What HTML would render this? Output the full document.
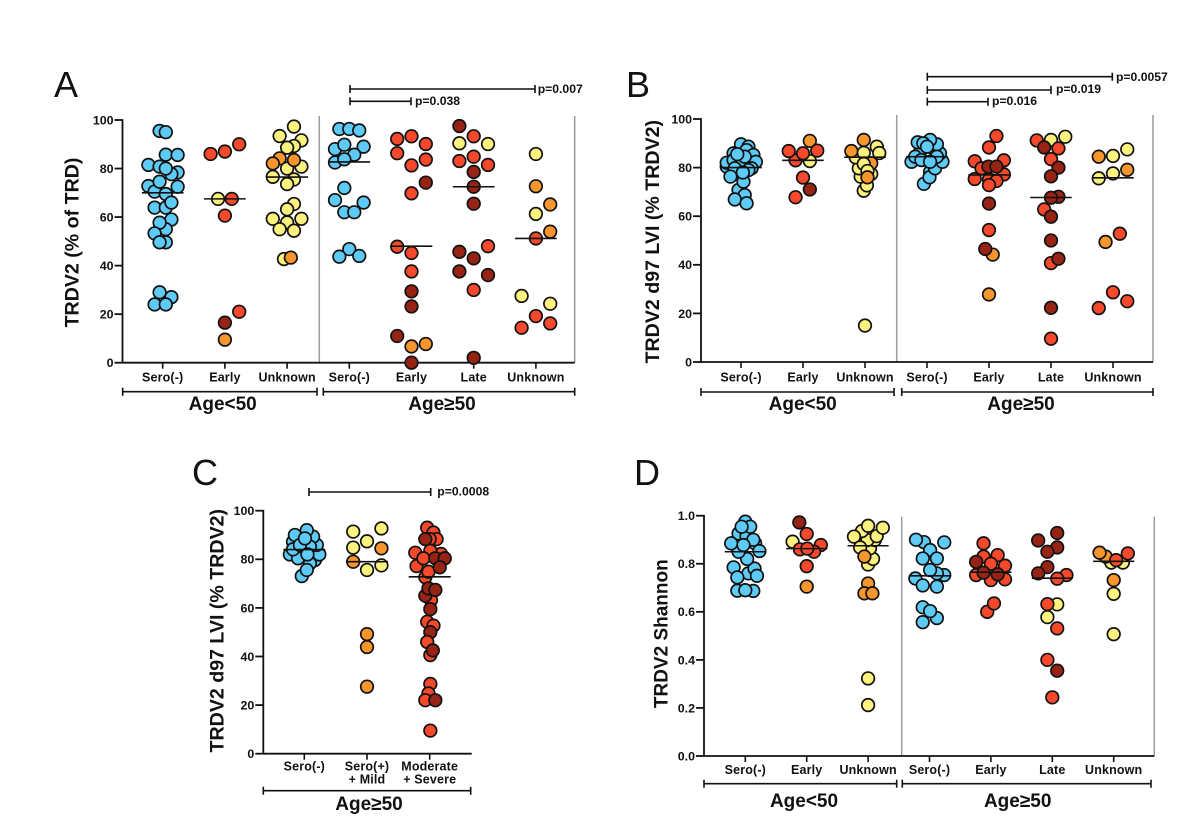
<!DOCTYPE html>
<html lang="en">
<head>
<meta charset="utf-8">
<title>TRDV2 repertoire panels</title>
<style>
html,body{margin:0;padding:0;background:#fff;width:1200px;height:832px;overflow:hidden}
svg{display:block}
text{font-family:"Liberation Sans",Arial,sans-serif;fill:#111}
.b{font-weight:700}
.letter{font-size:36px;font-weight:400}
.ttl{font-size:19.6px;font-weight:700;text-anchor:middle}
.age{font-size:19px;font-weight:700;text-anchor:middle}
.p{font-size:12.2px;font-weight:700}
.br{stroke:#111;stroke-width:1.6;fill:none}
</style>
</head>
<body>
<svg id="chart" xmlns="http://www.w3.org/2000/svg" width="1200" height="832" viewBox="0 0 1200 832">
  <rect width="1200" height="832" fill="#fff"/>

  <text class="letter" x="54" y="97">A</text>
  <text class="letter" x="626" y="97">B</text>
  <text class="letter" x="192" y="485">C</text>
  <text class="letter" x="634" y="485">D</text>

  <text class="ttl" transform="translate(78.5,242.5) rotate(-90)">TRDV2 (% of TRD)</text>
  <text class="ttl" transform="translate(659,241.7) rotate(-90)">TRDV2 d97 LVI (% TRDV2)</text>
  <text class="ttl" transform="translate(223.3,630.7) rotate(-90)">TRDV2 d97 LVI (% TRDV2)</text>
  <text class="ttl" style="font-size:19px" transform="translate(667.3,633.7) rotate(-90)">TRDV2 Shannon</text>

  <path class="br" d="M122.7 387.7V395.7M122.7 391.7H317M317 387.7V395.7"/>
  <path class="br" d="M323.3 387.7V395.7M323.3 391.7H574.7M574.7 387.7V395.7"/>
  <text class="age" x="222.7" y="410">Age&lt;50</text>
  <text class="age" x="442" y="410">Age≥50</text>

  <path class="br" d="M701 388V396M701 392H894M894 388V396"/>
  <path class="br" d="M901.7 388V396M901.7 392H1153M1153 388V396"/>
  <text class="age" x="802.7" y="410">Age&lt;50</text>
  <text class="age" x="1021" y="410">Age≥50</text>

  <path class="br" d="M263.3 786.7V794.7M263.3 790.7H470.7M470.7 786.7V794.7"/>
  <text class="age" x="369" y="810">Age≥50</text>

  <path class="br" d="M704 779.7V787.7M704 783.7H896.7M896.7 779.7V787.7"/>
  <path class="br" d="M902.3 779.7V787.7M902.3 783.7H1151M1151 779.7V787.7"/>
  <text class="age" x="804" y="807">Age&lt;50</text>
  <text class="age" x="1017.7" y="807">Age≥50</text>

  <path class="br" d="M350 85V93M350 89H535M535 85V93"/>
  <text class="p" x="537.7" y="93">p=0.007</text>
  <path class="br" d="M350 97.3V105.3M350 101.3H411M411 97.3V105.3"/>
  <text class="p" x="415" y="105">p=0.038</text>

  <path class="br" d="M927.3 72.7V80.7M927.3 76.7H1112.3M1112.3 72.7V80.7"/>
  <text class="p" x="1116" y="81">p=0.0057</text>
  <path class="br" d="M927.3 86V94M927.3 90H1051M1051 86V94"/>
  <text class="p" x="1056" y="93">p=0.019</text>
  <path class="br" d="M927.3 97.7V105.7M927.3 101.7H988M988 97.7V105.7"/>
  <text class="p" x="992" y="105">p=0.016</text>

  <path class="br" d="M309 488V496M309 492H430.7M430.7 488V496"/>
  <text class="p" x="437.3" y="495.5">p=0.0008</text>

  <g id="plots"></g>
</svg>

<script>
// Shared tick labels
const ticksPct = [0, 20, 40, 60, 80, 100];
const ticksShannon = [0, 0.2, 0.4, 0.6, 0.8, 1];
const categoriesFull = ["Sero(-)", "Early", "Unknown", "Sero(-)", "Early", "Late", "Unknown"];
const categoriesC = [["Sero(-)"], ["Sero(+)", "+ Mild"], ["Moderate", "+ Severe"]];

// Tones: b blue, r red, d dark red, o orange, y yellow. Swarm: sideways offset in hundredths of a category.
// Panel A
const mediansA = [70, 67.5, 76.5, 82.7, 48, 72.5, 51.2];
const valuesA0 = [95.5,95,85.7,85.6,81.5,80.8,78.4,77.7,80,72.8,70.5,72.5,69.5,74.6,63.9,63.9,66,59,55,57.7,53.3,49.6,49.6,27,24,24,29];
const swarmA0 = [-5,5,5,24,-23,-5,24,14,5,-23,-13,24,5,-5,-13,5,14,14,5,-5,-13,5,-5,14,-13,5,-5];
const toneA0 = "bbbbbbbbbbbbbbbbbbbbbbbbbbb";
const valuesA1 = [86,87,90,67.5,67.5,60.6,21,16.5,9.5];
const swarmA1 = [-23,0,23,-11,11,0,23,0,0];
const toneA1 = "rrryrrrdo";
const valuesA2 = [97.3,93.4,91.6,89.3,88.6,80.8,80,76.6,75.5,73.6,65.4,63.2,59.3,59.3,57.8,55,54.4,42.7,84.2,82.1,83.5,43.3];
const swarmA2 = [11,-12,23,11,0,23,0,-23,11,0,11,0,23,-23,0,-12,11,-5,-12,-23,11,6];
const toneA2 = "yyyyyyyyyyyyyyyyyyoooo";
const valuesA3 = [96.3,96.3,95.7,88,89.8,89,85.7,82.5,83.8,72,67,66,62,62,46.8,43.7,44];
const swarmA3 = [-16,0,16,-23,-8,23,8,-23,-8,-8,-23,23,-8,8,0,-16,16];
const toneA3 = "bbbbbbbbbbbbbbbbb";
const valuesA4 = [92.2,93.3,90.1,86.3,83.7,81.3,74.2,69.8,47.8,45.2,37.6,29.4,23.2,11,7.7,6.7,0];
const swarmA4 = [-23,0,23,-23,23,0,23,0,-23,0,0,0,0,-23,23,0,0];
const toneA4 = "rrrrrrdrrrrdddood";
const valuesA5 = [97.5,93.3,90.4,90.1,84.9,83.1,81.5,78.6,72.5,65.5,48,45.7,43,37.6,36.1,30,2];
const swarmA5 = [-23,0,-23,23,0,-23,23,0,0,0,23,-23,0,-23,23,0,0];
const toneA5 = "dryyrrrdddrddddrd";
const valuesA6 = [86,72.7,65.2,61.3,54,51.2,27.5,24.3,19.2,16.2,14.4];
const swarmA6 = [0,0,23,0,23,0,-23,23,0,23,-23];
const toneA6 = "yooyoryyrrr";

// Panel B
const mediansB = [80, 83, 84.3, 84.5, 77, 67.7, 75.8];
const valuesB0 = [85.9,80.4,70.8,68.7,89.6,88.6,85.9,87.2,85.2,82,82.4,83.1,81.8,79.7,79.7,79,84.5,76.3,74.2,78,85.5,66.9,65.3];
const swarmB0 = [1,-23,-4,6,0,12,-12,9,20,-23,24,-12,1,17,-10,12,6,-17,4,3,-6,-10,9];
const toneB0 = "bbbbbbbbbbbbbbbbbbbbbbb";
const valuesB1 = [83,82.7,91,86.8,87,85.9,75.9,71,67.8];
const swarmB1 = [-12,11,11,-23,23,0,0,11,-12];
const toneB1 = "ryorrrrdr";
const valuesB2 = [70.5,72.7,77.4,76.3,81.8,79.7,84.2,88.6,86,86.8,91.4,86.1,81.5,78.6,76,15];
const swarmB2 = [-2,3,10,-7,10,-10,-15,19,23,-22,-2,-2,-2,4,4,0];
const toneB2 = "yyyyoyyyyooyyyoy";
const valuesB3 = [87.9,86.6,78.3,73.3,76,79.7,82.4,82.4,84.5,85.9,89.6,91.4,90.4,90,83.1,84.5,88.6,82.4];
const swarmB3 = [10,-11,5,-5,4,13,-25,25,-19,21,16,5,-15,-6,-9,16,0,5];
const toneB3 = "bbbbbbbbbbbbbbbbbb";
const valuesB4 = [93,88.3,82.6,83,79.7,75.3,77.2,75.2,74.5,72.8,80.4,80.4,65.2,54.3,44.2,46.5,27.8];
const swarmB4 = [12,0,-23,24,-12,-23,24,0,12,0,-1,12,0,0,6,-6,0];
const toneB4 = "rrrrrrrrrrdddrodo";
const valuesB5 = [92.7,91.4,91.2,88.3,87.9,83.5,80,76.4,68,67.6,62.8,59.8,50,40.7,42.5,22.3,9.6];
const swarmB5 = [23,0,-23,-11,12,0,12,0,12,0,-11,0,0,0,12,0,0];
const toneB5 = "yyrdrrddddrddrddr";
const valuesB6 = [87.5,84.5,84.8,79.1,77.6,75.6,52.8,49.4,28.7,25,22.2];
const swarmB6 = [23,-23,0,23,0,-23,11,-12,0,23,-23];
const toneB6 = "yoyoyyrorrr";

// Panel C
const mediansC = [84, 79, 72.8];
const valuesC0 = [79.7,87.2,78.3,73.1,75.6,82,82,80.4,85.9,89.3,90,92,84.1,85.2,85.9,88.6,82];
const swarmC0 = [17,-18,9,-4,4,-23,24,-10,20,14,-15,4,-18,9,-7,1,5];
const toneC0 = "bbbbbbbbbbbbbbbbb";
const valuesC1 = [91.4,92.7,87.4,84.8,84.5,79,77.5,75.6,49.2,43.9,27.6];
const swarmC1 = [-22,23,0,-22,23,-22,23,0,0,0,0];
const toneC1 = "yyyyooyyooo";
const valuesC2 = [93,91,88.3,88.3,88.3,82.7,82.2,83.5,77.2,80.4,72.6,74.9,80.4,80.4,76.7,63.2,65,68,67.4,59.5,54.3,52.7,50,46,40.6,42.5,28.7,24.8,22,22,9.5];
const swarmC2 = [-4,6,11,0,-7,-23,18,1,-21,-10,-7,-2,9,24,16,2,-7,-2,9,1,-4,6,1,-4,1,5,1,-2,-7,9,1];
const toneC2 = "rrrrdrrrrrrrdddrddddrrdrrdrrrdr";

// Panel D
const mediansD = [0.85, 0.863, 0.875, 0.75, 0.765, 0.74, 0.81];
const valuesD0 = [0.688,0.687,0.69,0.76,0.78,0.785,0.743,0.75,0.82,0.885,0.853,0.85,0.926,0.913,0.975,0.954,0.954,0.9,0.885,0.878];
const swarmD0 = [-13,13,0,5,15,-19,-13,19,3,16,23,-11,-11,2,0,8,-6,13,-23,-3];
const toneD0 = "bbbbbbbbbbbbbbbbbbbb";
const valuesD1 = [0.972,0.924,0.892,0.878,0.85,0.86,0.863,0.79,0.705];
const swarmD1 = [-12,0,-23,23,12,-11,1,0,0];
const toneD1 = "dryrrrrro";
const valuesD2 = [0.797,0.82,0.864,0.899,0.899,0.915,0.936,0.913,0.868,0.958,0.95,0.83,0.718,0.677,0.677,0.323,0.212];
const swarmD2 = [0,8,3,11,-1,14,-10,-23,-13,0,24,-6,0,-6,7,0,0];
const toneD2 = "yyyyyyyyyyyooooyy";
const valuesD3 = [0.89,0.9,0.889,0.857,0.822,0.822,0.753,0.76,0.774,0.739,0.71,0.705,0.619,0.574,0.603,0.557];
const swarmD3 = [-9,-22,24,1,12,-11,24,12,1,-23,-11,12,-11,12,1,-11];
const toneD3 = "bbbbbbbbbbbbbbbb";
const valuesD4 = [0.885,0.836,0.83,0.8,0.792,0.753,0.732,0.735,0.808,0.763,0.756,0.6,0.635];
const swarmD4 = [-12,11,-12,0,23,-24,0,23,-24,-12,11,-6,5];
const toneD4 = "rrrrrrrrdddrr";
const valuesD5 = [0.928,0.897,0.868,0.85,0.786,0.76,0.753,0.738,0.631,0.632,0.578,0.531,0.4,0.355,0.244];
const swarmD5 = [8,-23,8,-8,-8,-23,23,8,8,-8,-8,8,-8,8,0];
const toneD5 = "ddddddrryryrrdr";
const valuesD6 = [0.805,0.805,0.83,0.846,0.843,0.815,0.732,0.675,0.507];
const swarmD6 = [-4,15,-13,-23,23,4,0,0,0];
const toneD6 = "yyoorroyy";

const toneColors = {b:"#5ecbf6", r:"#f6482b", d:"#962314", o:"#f8962e", y:"#fdf27d"};
const SVGNS = "http://www.w3.org/2000/svg";
const plots = document.getElementById("plots");

const panels = [
  {id:"a", left:122.5, right:574.7, first:162.7, step:62.2, yZero:362.7, yTop:120, yMax:100, top:116, divider:319.3, tickY:381.7,
   ticks:ticksPct, tickFmt:String, cats:categoriesFull, medians:mediansA, halfMedian:0.335,
   groups:[[valuesA0,swarmA0,toneA0],[valuesA1,swarmA1,toneA1],[valuesA2,swarmA2,toneA2],[valuesA3,swarmA3,toneA3],[valuesA4,swarmA4,toneA4],[valuesA5,swarmA5,toneA5],[valuesA6,swarmA6,toneA6]]},
  {id:"b", left:701, right:1153, first:741, step:62, yZero:362, yTop:119, yMax:100, top:115, divider:896.7, tickY:381.7,
   ticks:ticksPct, tickFmt:String, cats:categoriesFull, medians:mediansB, halfMedian:0.335,
   groups:[[valuesB0,swarmB0,toneB0],[valuesB1,swarmB1,toneB1],[valuesB2,swarmB2,toneB2],[valuesB3,swarmB3,toneB3],[valuesB4,swarmB4,toneB4],[valuesB5,swarmB5,toneB5],[valuesB6,swarmB6,toneB6]]},
  {id:"c", left:263.3, right:471.7, first:304.3, step:62.7, yZero:753.7, yTop:510.7, yMax:100, top:null, divider:null, tickY:770.7,
   ticks:ticksPct, tickFmt:String, cats:categoriesC, medians:mediansC, halfMedian:0.335,
   groups:[[valuesC0,swarmC0,toneC0],[valuesC1,swarmC1,toneC1],[valuesC2,swarmC2,toneC2]]},
  {id:"d", left:704, right:1154.3, first:745.3, step:61.4, yZero:756, yTop:515.7, yMax:1, top:516.7, divider:901.7, tickY:774,
   ticks:ticksShannon, tickFmt:function(v){return v.toFixed(1);}, cats:categoriesFull, medians:mediansD, halfMedian:0.335,
   groups:[[valuesD0,swarmD0,toneD0],[valuesD1,swarmD1,toneD1],[valuesD2,swarmD2,toneD2],[valuesD3,swarmD3,toneD3],[valuesD4,swarmD4,toneD4],[valuesD5,swarmD5,toneD5],[valuesD6,swarmD6,toneD6]]}
];

function make(tag, attrs, parent) {
  const node = document.createElementNS(SVGNS, tag);
  Object.keys(attrs).forEach(function (k) { node.setAttribute(k, attrs[k]); });
  parent.appendChild(node);
  return node;
}

panels.forEach(function (p) {
  const xScale = function (cat) { return p.first + p.step * cat; };
  const yScale = function (v) { return p.yZero - (v / p.yMax) * (p.yZero - p.yTop); };

  const g = make("g", {}, plots);
  
  

  if (p.divider !== null) {
    const div = make("line", {x1:p.divider, x2:p.divider, y1:p.top, y2:p.yZero, stroke:"#9a9a9a", "stroke-width":1.5}, g);
    
    
    const edge = make("line", {x1:p.right, x2:p.right, y1:p.top, y2:p.yZero, stroke:"#9a9a9a", "stroke-width":1.5}, g);
    
    
  }

  const yAxis = make("line", {x1:p.left, x2:p.left, y1:p.yTop - 0.8, y2:p.yZero + 0.8, stroke:"#111", "stroke-width":1.8}, g);
  
  
  const xAxis = make("line", {x1:p.left, x2:p.right, y1:p.yZero, y2:p.yZero, stroke:"#111", "stroke-width":1.8}, g);
  
  

  p.ticks.forEach(function (t) {
    const mark = make("line", {x1:p.left - 8, x2:p.left, y1:yScale(t), y2:yScale(t), stroke:"#111", "stroke-width":1.8}, g);
    
    
    const lab = make("text", {x:p.left - 9, y:yScale(t) + 4.4, "text-anchor":"end", "font-size":12.4, "font-weight":700}, g);
    lab.textContent = p.tickFmt(t);
    
    
  });

  p.cats.forEach(function (c, i) {
    const mark = make("line", {x1:xScale(i), x2:xScale(i), y1:p.yZero, y2:p.yZero + 6, stroke:"#111", "stroke-width":1.6}, g);
    
    
    const lines = Array.isArray(c) ? c : [c];
    lines.forEach(function (line, k) {
      const lab = make("text", {x:xScale(i), y:p.tickY + k * 12.7, "text-anchor":"middle", "font-size":12.5, "font-weight":700, "letter-spacing":0.15}, g);
      lab.textContent = line;
      
      
    });
  });

  p.groups.forEach(function (grp, i) {
    const values = grp[0], swarm = grp[1], tones = grp[2];
    values.forEach(function (v, k) {
      const dot = make("circle", {cx:xScale(i + swarm[k] / 100), cy:yScale(v), r:6.3, fill:toneColors[tones[k]], stroke:"#111", "stroke-width":1.7}, g);
      
      
    });
  });

  p.medians.forEach(function (m, i) {
    const line = make("line", {x1:xScale(i - p.halfMedian), x2:xScale(i + p.halfMedian), y1:yScale(m), y2:yScale(m), stroke:"#111", "stroke-width":1.6}, g);
    
    
  });
});
</script>
</body>
</html>
